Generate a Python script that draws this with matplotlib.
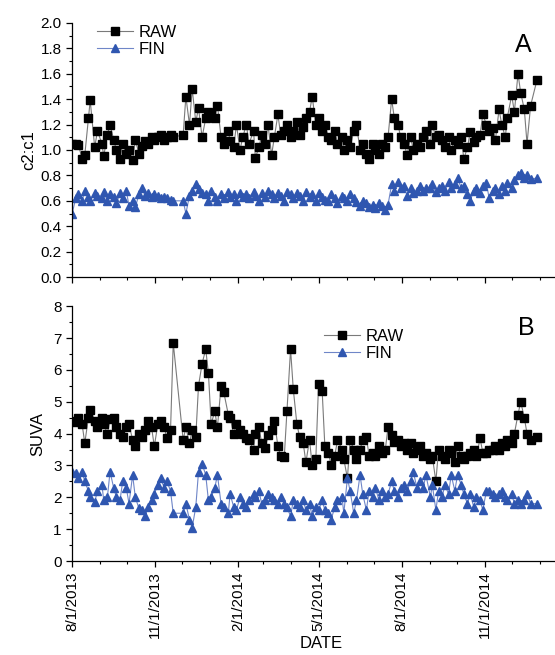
import matplotlib
matplotlib.use("Agg")
import numpy as np
import pandas as pd
import matplotlib.pyplot as plt
import matplotlib.dates as mdates
from matplotlib.ticker import MultipleLocator

plt.rcParams['font.family'] = ['Liberation Sans', 'DejaVu Sans']

# ---------------------- data ----------------------
SAMPLE_DATES = [
    # 2013
    "2013-08-01", "2013-08-05", "2013-08-08", "2013-08-12", "2013-08-15", "2013-08-19", "2013-08-21", "2013-08-26", "2013-08-29",
    "2013-09-03", "2013-09-05", "2013-09-09", "2013-09-12", "2013-09-16", "2013-09-19", "2013-09-23", "2013-09-26", "2013-09-30",
    "2013-10-03", "2013-10-07", "2013-10-10", "2013-10-14", "2013-10-17", "2013-10-21", "2013-10-24", "2013-10-28", "2013-10-31",
    "2013-11-04", "2013-11-07", "2013-11-11", "2013-11-14", "2013-11-18", "2013-11-21",
    "2013-12-02", "2013-12-05", "2013-12-09", "2013-12-12", "2013-12-16", "2013-12-19", "2013-12-23", "2013-12-27", "2013-12-30",
    # 2014
    "2014-01-02", "2014-01-06", "2014-01-09", "2014-01-13", "2014-01-16", "2014-01-21", "2014-01-23", "2014-01-27", "2014-01-30",
    "2014-02-03", "2014-02-06", "2014-02-10", "2014-02-13", "2014-02-18", "2014-02-20", "2014-02-24", "2014-02-27",
    "2014-03-03", "2014-03-06", "2014-03-10", "2014-03-13", "2014-03-17", "2014-03-20", "2014-03-24", "2014-03-27", "2014-03-31",
    "2014-04-03", "2014-04-07", "2014-04-10", "2014-04-14", "2014-04-17", "2014-04-21", "2014-04-24", "2014-04-28",
    "2014-05-01", "2014-05-05", "2014-05-08", "2014-05-12", "2014-05-15", "2014-05-19", "2014-05-22", "2014-05-27", "2014-05-29",
    "2014-06-02", "2014-06-05", "2014-06-09", "2014-06-12", "2014-06-16", "2014-06-19", "2014-06-23", "2014-06-26", "2014-06-30",
    "2014-07-03", "2014-07-07", "2014-07-10", "2014-07-14", "2014-07-17", "2014-07-21", "2014-07-24", "2014-07-28", "2014-07-31",
    "2014-08-04", "2014-08-07", "2014-08-11", "2014-08-14", "2014-08-18", "2014-08-21", "2014-08-25", "2014-08-28",
    "2014-09-02", "2014-09-04", "2014-09-08", "2014-09-11", "2014-09-15", "2014-09-18", "2014-09-22", "2014-09-25", "2014-09-29",
    "2014-10-02", "2014-10-06", "2014-10-09", "2014-10-13", "2014-10-16", "2014-10-20", "2014-10-23", "2014-10-27", "2014-10-30",
    "2014-11-03", "2014-11-06", "2014-11-10", "2014-11-13", "2014-11-17", "2014-11-20", "2014-11-24", "2014-11-26",
    "2014-12-01", "2014-12-04", "2014-12-08", "2014-12-11", "2014-12-15", "2014-12-18", "2014-12-22", "2014-12-29",
]

# panel A: c2:c1 ratio
C2C1_RAW = [
    1.05, 1.05, 1.04, 0.93, 0.96, 1.25, 1.39, 1.02, 1.15,
    1.05, 0.95, 1.12, 1.20, 1.08, 1.00, 0.93, 1.05, 0.97,
    1.00, 0.92, 1.08, 0.97, 1.03, 1.07, 1.05, 1.10, 1.08,
    1.10, 1.12, 1.08, 1.10, 1.12, 1.10,
    1.12, 1.42, 1.20, 1.48, 1.22, 1.33, 1.10, 1.25, 1.30,
    1.28, 1.25, 1.35, 1.10, 1.05, 1.15, 1.07, 1.02, 1.20,
    1.00, 1.10, 1.20, 1.05, 1.15, 0.94, 1.02, 1.12,
    1.05, 1.20, 0.96, 1.10, 1.28, 1.12, 1.15, 1.20, 1.10,
    1.15, 1.22, 1.12, 1.18, 1.25, 1.30, 1.42, 1.20,
    1.25, 1.15, 1.20, 1.10, 1.08, 1.15, 1.05, 1.10, 1.00,
    1.08, 1.02, 1.15, 1.20, 1.00, 1.05, 0.97, 0.93, 1.05,
    1.00, 0.97, 1.05, 1.02, 1.10, 1.40, 1.25, 1.20, 1.10,
    1.05, 0.96, 1.10, 1.00, 1.05, 1.02, 1.10, 1.15,
    1.05, 1.20, 1.10, 1.12, 1.08, 1.02, 1.10, 1.00, 1.08,
    1.05, 1.10, 0.93, 1.02, 1.14, 1.06, 1.10, 1.12, 1.28,
    1.20, 1.15, 1.17, 1.08, 1.32, 1.20, 1.10, 1.25,
    1.43, 1.30, 1.60, 1.45, 1.32, 1.05, 1.35, 1.55,
]
C2C1_FIN = [
    0.50, 0.62, 0.65, 0.60, 0.68, 0.63, 0.60, 0.66, 0.64,
    0.62, 0.67, 0.60, 0.65, 0.63, 0.58, 0.66, 0.62, 0.68,
    0.56, 0.60, 0.55, 0.65, 0.70, 0.64, 0.66, 0.63, 0.65,
    0.64, 0.62, 0.63, 0.62, 0.61, 0.60,
    0.60, 0.50, 0.64, 0.68, 0.73, 0.69, 0.66, 0.65, 0.60,
    0.68, 0.63, 0.60, 0.65, 0.62, 0.67, 0.63, 0.65, 0.60,
    0.66, 0.63, 0.65, 0.62, 0.67, 0.64, 0.60, 0.66,
    0.63, 0.68, 0.65, 0.62, 0.66, 0.64, 0.60, 0.67, 0.65,
    0.62, 0.66, 0.64, 0.60, 0.67, 0.63, 0.65, 0.60,
    0.66, 0.63, 0.61, 0.60, 0.65, 0.62, 0.58, 0.64, 0.62,
    0.60, 0.65, 0.62, 0.59, 0.56, 0.60, 0.58, 0.55, 0.57,
    0.54, 0.58, 0.56, 0.53, 0.57, 0.73, 0.68, 0.75, 0.70,
    0.72, 0.64, 0.70, 0.66, 0.68, 0.72, 0.68, 0.70,
    0.70, 0.73, 0.67, 0.70, 0.72, 0.68, 0.75, 0.70, 0.73,
    0.78, 0.70, 0.72, 0.65, 0.60, 0.68, 0.70, 0.66, 0.72,
    0.74, 0.62, 0.68, 0.70, 0.65, 0.72, 0.68, 0.74,
    0.70, 0.76, 0.80, 0.82, 0.78, 0.80, 0.77, 0.78,
]

# panel B: SUVA
SUVA_RAW = [
    4.40, 4.35, 4.50, 4.30, 3.70, 4.50, 4.75, 4.40, 4.20,
    4.50, 4.30, 4.00, 4.45, 4.50, 4.20, 4.00, 3.90, 4.20,
    4.30, 3.80, 3.60, 4.00, 3.90, 4.10, 4.40, 4.20, 3.60,
    4.30, 4.40, 4.20, 3.85, 4.10, 6.85,
    3.80, 4.20, 3.70, 4.10, 3.90, 5.50, 6.20, 6.65, 5.90,
    4.30, 4.70, 4.20, 5.50, 5.30, 4.60, 4.50, 4.00, 4.30,
    4.10, 4.00, 3.85, 3.80, 3.50, 4.00, 4.20, 3.70,
    3.55, 3.95, 4.10, 4.40, 3.60, 3.30, 3.25, 4.70, 6.65,
    5.40, 4.30, 3.90, 3.70, 3.10, 3.80, 3.00, 3.20,
    5.55, 5.35, 3.60, 3.40, 3.00, 3.30, 3.80, 3.50, 3.20,
    2.60, 3.80, 3.50, 3.20, 3.50, 3.80, 3.90, 3.30, 3.40,
    3.30, 3.60, 3.40, 3.50, 4.20, 3.95, 3.75, 3.80, 3.60,
    3.70, 3.50, 3.70, 3.40, 3.50, 3.60, 3.30, 3.40,
    3.20, 3.30, 2.50, 3.50, 3.30, 3.20, 3.50, 3.40, 3.10,
    3.60, 3.30, 3.20, 3.30, 3.40, 3.50, 3.30, 3.85, 3.40,
    3.40, 3.50, 3.50, 3.60, 3.50, 3.70, 3.60, 3.80,
    3.70, 4.00, 4.60, 5.00, 4.50, 4.00, 3.80, 3.90,
]
SUVA_FIN = [
    2.80, 2.75, 2.60, 2.80, 2.50, 2.20, 2.00, 1.85, 2.20,
    2.40, 1.90, 2.00, 2.80, 2.30, 2.00, 1.90, 2.50, 2.30,
    1.80, 2.70, 2.00, 1.65, 1.60, 1.40, 1.70, 1.90, 2.10,
    2.40, 2.60, 2.30, 2.50, 2.20, 1.50,
    1.50, 1.80, 1.30, 1.05, 1.70, 2.80, 3.05, 2.70, 1.90,
    2.00, 2.30, 2.70, 1.80, 1.70, 1.50, 2.10, 1.70, 1.60,
    2.00, 1.80, 1.70, 1.90, 2.10, 2.00, 2.20, 1.80,
    1.90, 2.10, 2.00, 1.90, 1.80, 2.00, 1.80, 1.70, 1.40,
    1.90, 1.80, 1.70, 1.90, 1.60, 1.80, 1.40, 1.70,
    1.60, 1.90, 1.60, 1.50, 1.30, 1.70, 1.90, 2.00, 1.50,
    2.60, 2.20, 1.50, 1.90, 2.70, 2.10, 1.60, 2.20, 2.00,
    2.30, 1.90, 2.20, 2.00, 2.10, 2.50, 2.20, 2.00, 2.30,
    2.40, 2.20, 2.50, 2.80, 2.30, 2.50, 2.30, 2.70,
    2.00, 2.40, 1.60, 2.20, 2.00, 2.40, 2.10, 2.70, 2.20,
    2.70, 2.40, 2.10, 1.80, 2.10, 1.70, 2.00, 1.90, 1.60,
    2.20, 2.20, 2.10, 2.00, 2.10, 2.20, 2.00, 1.90,
    2.10, 1.80, 1.90, 1.80, 1.90, 2.10, 1.80, 1.80,
]

MAJOR_TICKS = ["2013-08-01", "2013-11-01", "2014-02-01", "2014-05-01", "2014-08-01", "2014-11-01"]
TICK_LABELS = ["8/1/2013", "11/1/2013", "2/1/2014", "5/1/2014", "8/1/2014", "11/1/2014"]

# ---------------------- styles ----------------------
BLUE = "#2F56B0"
RAW_STYLE = dict(color="#7a7a7a", lw=0.8, marker="s", ms=5.3, mfc="black", mec="black", label="RAW")
FIN_STYLE = dict(color="#6f86c8", lw=0.8, marker="^", ms=6.0, mfc=BLUE, mec=BLUE, label="FIN")

dates = pd.to_datetime(SAMPLE_DATES)
ticks = pd.to_datetime(MAJOR_TICKS)
x0, x1 = pd.Timestamp("2013-08-01"), pd.Timestamp("2015-01-18")


def style_axis(ax):
    ax.spines["top"].set_visible(False)
    ax.spines["right"].set_visible(False)
    ax.set_xlim(x0, x1)
    ax.set_xticks(ticks)
    ax.xaxis.set_minor_locator(mdates.MonthLocator())
    ax.tick_params(which="major", direction="out", length=4, width=0.9, labelsize=11)
    ax.tick_params(which="minor", direction="out", length=2.2, width=0.8)
    for s in ("left", "bottom"):
        ax.spines[s].set_linewidth(0.9)


fig = plt.figure(figsize=(5.55, 6.55), dpi=100)
axA = fig.add_axes([0.130, 0.577, 0.870, 0.388])
axB = fig.add_axes([0.130, 0.1435, 0.870, 0.389])

# ---- panel A ----
axA.plot(dates, C2C1_RAW, **RAW_STYLE)
axA.plot(dates, C2C1_FIN, **FIN_STYLE)
style_axis(axA)
axA.set_ylim(0, 2.0)
axA.yaxis.set_major_locator(MultipleLocator(0.2))
axA.yaxis.set_minor_locator(MultipleLocator(0.1))
axA.yaxis.set_major_formatter(plt.FormatStrFormatter("%.1f"))
axA.set_xticklabels([])
axA.set_ylabel("c2:c1", fontsize=12, labelpad=3)
axA.text(0.935, 0.915, "A", transform=axA.transAxes, fontsize=18, ha="center", va="center")
axA.legend(loc="upper left", bbox_to_anchor=(0.03, 1.03), frameon=False, fontsize=12,
           handlelength=2.2, handletextpad=0.3, labelspacing=0.1, borderaxespad=0.2)

# ---- panel B ----
axB.plot(dates, SUVA_RAW, **RAW_STYLE)
axB.plot(dates, SUVA_FIN, **FIN_STYLE)
style_axis(axB)
axB.set_ylim(0, 8)
axB.yaxis.set_major_locator(MultipleLocator(1))
axB.yaxis.set_minor_locator(MultipleLocator(0.5))
axB.set_xticklabels(TICK_LABELS, rotation=90)
axB.set_ylabel("SUVA", fontsize=12, labelpad=6)
axB.set_xlabel("DATE", fontsize=12)
axB.xaxis.set_label_coords(0.515, -0.295)
axB.text(0.94, 0.915, "B", transform=axB.transAxes, fontsize=18, ha="center", va="center")
axB.legend(loc="upper left", bbox_to_anchor=(0.50, 0.95), frameon=False, fontsize=12,
           handlelength=2.2, handletextpad=0.3, labelspacing=0.1, borderaxespad=0.2)

fig.savefig("out.png", dpi=100, facecolor="white")
